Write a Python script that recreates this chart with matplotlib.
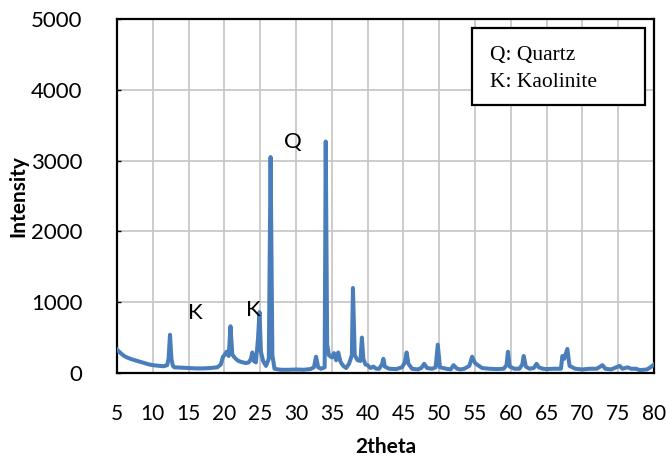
import matplotlib
matplotlib.use("Agg")
import matplotlib.pyplot as plt
from matplotlib.patches import Rectangle

# 2theta / intensity
two_theta = [5.0, 5.5, 6.0, 6.5, 7.0, 7.5, 8.0, 8.5, 9.0, 9.5, 10.0, 10.5, 11.0, 11.5,
             12.0, 12.2, 12.4, 12.6, 12.8, 13.0, 14.0, 15.0, 16.0, 17.0, 18.0, 19.0,
             19.5, 19.8, 20.0, 20.3, 20.6, 20.85, 21.1, 21.4, 21.8, 22.2, 22.6, 23.0,
             23.4, 23.7, 23.9, 24.1, 24.4, 24.7, 24.9, 25.1, 25.4, 25.8, 26.2, 26.45,
             26.7, 27.0, 27.5, 28.0, 29.0, 30.0, 31.0, 32.0, 32.5, 32.8, 33.1, 33.5,
             34.0, 34.15, 34.35, 34.6, 35.0, 35.3, 35.6, 35.9, 36.2, 36.6, 37.0, 37.4,
             37.8, 37.95, 38.2, 38.6, 39.0, 39.2, 39.4, 39.7, 40.0, 40.4, 40.8, 41.2,
             41.6, 42.0, 42.2, 42.4, 43.0, 44.0, 44.8, 45.2, 45.45, 45.7, 46.2, 47.0,
             47.5, 47.9, 48.3, 49.0, 49.5, 49.8, 50.1, 51.0, 51.6, 52.0, 52.5, 53.0,
             53.5, 54.2, 54.6, 55.0, 55.4, 56.0, 57.0, 58.0, 59.0, 59.4, 59.6, 59.85,
             60.5, 61.2, 61.6, 61.8, 62.1, 62.6, 63.2, 63.6, 63.9, 64.5, 65.0, 66.0,
             67.0, 67.2, 67.45, 67.9, 68.2, 69.0, 70.0, 71.0, 71.5, 72.0, 72.8, 73.2,
             74.0, 75.2, 75.6, 76.3, 76.8, 77.5, 78.0, 79.0, 79.5, 80.0]
intensity = [330, 280, 240, 215, 195, 180, 165, 150, 135, 120, 110, 105, 100, 95,
             110, 200, 540, 200, 100, 80, 75, 70, 65, 65, 70, 80,
             120, 230, 250, 300, 240, 660, 260, 220, 180, 160, 150, 140,
             150, 200, 290, 170, 150, 500, 860, 300, 170, 100, 200, 3050,
             250, 60, 50, 45, 45, 50, 45, 55, 80, 230, 80, 60,
             80, 3270, 400, 250, 220, 280, 180, 290, 160, 100, 70, 130,
             250, 1200, 250, 180, 170, 500, 200, 120, 110, 70, 90, 60,
             60, 120, 200, 90, 60, 55, 80, 150, 290, 130, 60, 50,
             70, 130, 70, 60, 80, 400, 80, 60, 50, 110, 60, 50,
             60, 100, 230, 140, 110, 70, 60, 55, 60, 110, 300, 90,
             60, 60, 120, 240, 90, 60, 70, 130, 80, 60, 55, 60,
             60, 240, 200, 340, 100, 60, 50, 60, 60, 60, 110, 60,
             50, 100, 60, 80, 60, 60, 40, 50, 80, 120]

x_ticks = list(range(5, 81, 5))
y_ticks = [0, 1000, 2000, 3000, 4000, 5000]

labels = [("K", 15.9, 850), ("K", 24.0, 890), ("Q", 29.6, 3260)]
legend_lines = ["Q: Quartz", "K: Kaolinite"]

plt.rcParams['font.family'] = ['Lato', 'DejaVu Sans']

fig = plt.figure(figsize=(6.66, 4.59), dpi=100)
ax = fig.add_axes([0.1757, 0.1874, 0.8063, 0.7712])

ax.plot(two_theta, intensity, color='#4a7ebb', lw=2.9, solid_joinstyle='round', zorder=3)

ax.set_xlim(5, 80)
ax.set_ylim(0, 5000)
ax.set_xticks(x_ticks)
ax.set_yticks(y_ticks)
ax.grid(True, color='#c8c8c8', lw=1.3, zorder=0)
ax.set_axisbelow(True)
for s in ax.spines.values():
    s.set_color('black')
    s.set_linewidth(1.6)

ax.tick_params(axis='y', direction='in', length=3, width=1, labelsize=16, pad=25)
ax.tick_params(axis='x', length=0, labelsize=15, pad=22)

ax.set_xlabel('2theta', fontsize=15, fontweight='bold', labelpad=10)
ax.set_ylabel('Intensity', fontsize=15, fontweight='bold', labelpad=2)

for txt, xv, yv in labels:
    ax.text(xv, yv, txt, fontsize=16, ha='center', va='center', zorder=4)

# legend box
ax.add_patch(Rectangle((0.6617, 0.757), 0.3221, 0.2176, transform=ax.transAxes,
                       facecolor='white', edgecolor='black', lw=1.6, zorder=5))
for i, line in enumerate(legend_lines):
    ax.text(0.695, 0.898 - i * 0.077, line, transform=ax.transAxes,
            family='Liberation Serif', fontsize=15.5, va='center', ha='left', zorder=6)

fig.savefig('out.png', dpi=100)
